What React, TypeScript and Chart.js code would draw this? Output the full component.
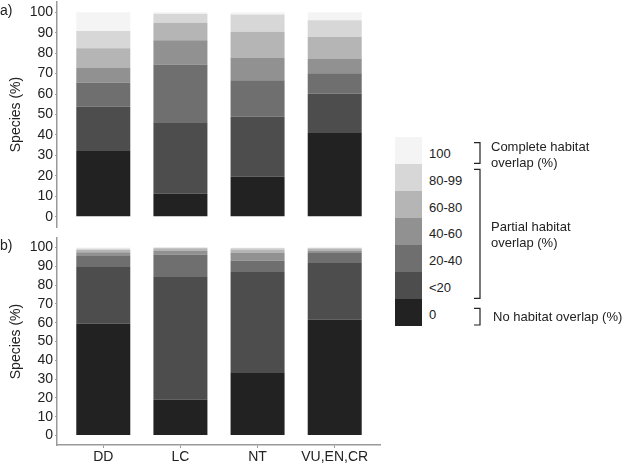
import React, { useEffect, useRef } from "react";
import { Chart, registerables } from "chart.js";

Chart.register(...registerables);

const categories = ["DD", "LC", "NT", "VU,EN,CR"];
const levelLabels = ["0", "<20", "20-40", "40-60", "60-80", "80-99", "100"];
const levelColors = ["#222222", "#4d4d4d", "#6f6f6f", "#919191", "#b5b5b5", "#d7d7d7", "#f4f4f4"];
const yTicks = [0, 10, 20, 30, 40, 50, 60, 70, 80, 90, 100];

// Panel a)
const a0 = [32.2, 11.3, 19.6, 41.0];
const aLt20 = [21.6, 34.9, 29.3, 19.1];
const a20_40 = [11.9, 28.2, 17.9, 10.1];
const a40_60 = [7.3, 11.9, 11.1, 6.9];
const a60_80 = [9.4, 8.5, 12.5, 10.8];
const a80_99 = [8.4, 4.4, 8.5, 8.2];
const a100 = [9.2, 0.8, 1.1, 3.9];

// Panel b)
const b0 = [59.4, 19.1, 33.6, 61.6];
const bLt20 = [30.2, 65.2, 53.3, 30.1];
const b20_40 = [5.9, 11.9, 6.2, 5.3];
const b40_60 = [1.9, 2.1, 3.9, 1.4];
const b60_80 = [1.2, 1.2, 1.9, 1.0];
const b80_99 = [0.8, 0.4, 0.8, 0.4];
const b100 = [0.6, 0.1, 0.3, 0.2];

const panelA = [a0, aLt20, a20_40, a40_60, a60_80, a80_99, a100];
const panelB = [b0, bLt20, b20_40, b40_60, b60_80, b80_99, b100];

const FONT = "'Liberation Sans', Arial, sans-serif";
const AXIS = "#9a9a9a";
const TEXT = "#222222";

function makeConfig(series: number[][], showX: boolean, padTop: number, padBottom: number): any {
  return {
    type: "bar",
    data: {
      datasets: series.map((vals, k) => ({
        label: levelLabels[k],
        data: vals.map((v, i) => ({ x: i, y: v })),
        backgroundColor: levelColors[k],
        borderWidth: 0,
        barPercentage: 0.7,
        categoryPercentage: 1,
      })),
    },
    options: {
      animation: false,
      responsive: false,
      maintainAspectRatio: false,
      layout: { padding: { top: padTop, bottom: padBottom, left: 0, right: 0 } },
      plugins: { legend: { display: false }, tooltip: { enabled: false } },
      scales: {
        x: {
          type: "linear",
          stacked: true,
          offset: false,
          min: -0.6,
          max: 3.6,
          display: showX,
          afterBuildTicks: (s: any) => {
            s.ticks = categories.map((_, i) => ({ value: i }));
          },
          afterFit: (s: any) => {
            s.height = showX ? 18 : 0;
            s.paddingLeft = 0;
            s.paddingRight = 0;
          },
          grid: { offset: false, drawOnChartArea: false, drawTicks: true, tickLength: 3, color: AXIS, lineWidth: 1 },
          border: { display: true, color: AXIS, width: 1.5 },
          ticks: {
            autoSkip: false,
            maxRotation: 0,
            padding: 1,
            color: TEXT,
            font: { family: FONT, size: 14 },
            callback: (v: any) => categories[v] ?? "",
          },
        },
        y: {
          stacked: true,
          min: -5,
          max: 105,
          afterBuildTicks: (s: any) => {
            s.ticks = yTicks.map((v) => ({ value: v }));
          },
          afterFit: (s: any) => {
            s.width = 57;
            s.paddingTop = 0;
            s.paddingBottom = 0;
          },
          grid: { drawOnChartArea: false, drawTicks: true, tickLength: 2, color: AXIS, lineWidth: 1 },
          border: { display: true, color: AXIS, width: 1.5 },
          ticks: { padding: 2, color: TEXT, font: { family: FONT, size: 14 } },
          title: {
            display: true,
            text: "Species (%)",
            color: TEXT,
            font: { family: FONT, size: 14 },
            padding: { top: 8, bottom: 0 },
          },
        },
      },
    },
  };
}

export default function App() {
  const refA = useRef<HTMLCanvasElement>(null);
  const refB = useRef<HTMLCanvasElement>(null);

  useEffect(() => {
    document.body.style.margin = "0";
    const ca = new Chart(refA.current as HTMLCanvasElement, makeConfig(panelA, false, 2, 1));
    const cb = new Chart(refB.current as HTMLCanvasElement, makeConfig(panelB, true, 4, 0));
    return () => {
      ca.destroy();
      cb.destroy();
    };
  }, []);

  const boxTop = 137.3;
  const boxH = 26.9;
  const legendOrder = [6, 5, 4, 3, 2, 1, 0];
  const textStyle: React.CSSProperties = {
    position: "absolute",
    fontFamily: FONT,
    fontSize: 13,
    color: TEXT,
    lineHeight: "16px",
    whiteSpace: "nowrap",
  };

  return (
    <div style={{ position: "relative", width: 630, height: 463, background: "#fff", overflow: "hidden" }}>
      <canvas ref={refA} width={381} height={228} style={{ position: "absolute", left: 0, top: 0 }} />
      <canvas ref={refB} width={381} height={229} style={{ position: "absolute", left: 0, top: 234 }} />
      <div style={{ ...textStyle, fontSize: 14, left: 0, top: 2 }}>a)</div>
      <div style={{ ...textStyle, fontSize: 14, left: 0, top: 237 }}>b)</div>
      {legendOrder.map((k, j) => (
        <React.Fragment key={k}>
          <div
            style={{
              position: "absolute",
              left: 395,
              top: boxTop + j * boxH,
              width: 27,
              height: boxH,
              background: levelColors[k],
            }}
          />
          <div style={{ ...textStyle, left: 429, top: boxTop + j * boxH + boxH / 2 - 8 + 3 }}>{levelLabels[k]}</div>
        </React.Fragment>
      ))}
      <svg width={630} height={463} style={{ position: "absolute", left: 0, top: 0 }}>
        <path d="M474,142.7 H480 V163.3 H474" fill="none" stroke={TEXT} strokeWidth={1.2} />
        <path d="M474,169.3 H480 V298.3 H474" fill="none" stroke={TEXT} strokeWidth={1.2} />
        <path d="M474,308.3 H480 V325 H474" fill="none" stroke={TEXT} strokeWidth={1.2} />
      </svg>
      <div style={{ ...textStyle, left: 491, top: 138.7 }}>Complete habitat</div>
      <div style={{ ...textStyle, left: 491, top: 155.3 }}>overlap (%)</div>
      <div style={{ ...textStyle, left: 491, top: 218.7 }}>Partial habitat</div>
      <div style={{ ...textStyle, left: 491, top: 235 }}>overlap (%)</div>
      <div style={{ ...textStyle, left: 493, top: 308.7 }}>No habitat overlap (%)</div>
    </div>
  );
}
